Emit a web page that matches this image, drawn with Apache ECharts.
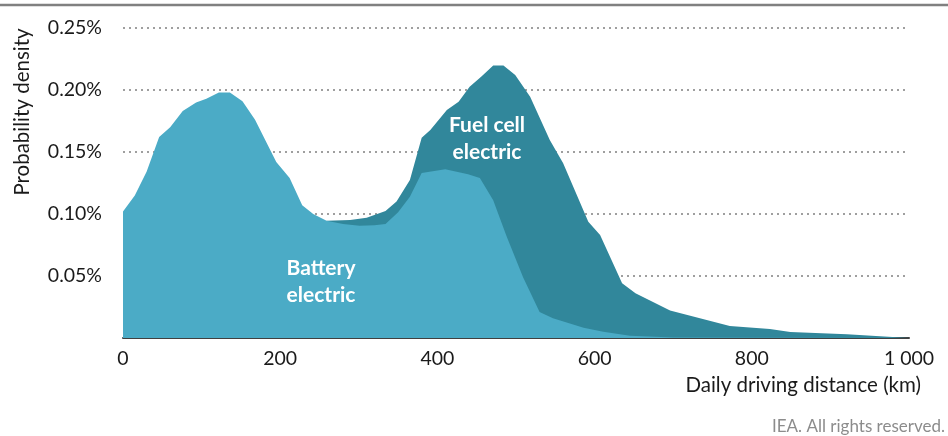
<!DOCTYPE html>
<html><head><meta charset="utf-8">
<script src="https://cdn.jsdelivr.net/npm/echarts@6/dist/echarts.min.js"></script>
<style>html,body{margin:0;padding:0;background:#fff}#c{width:948px;height:436px}</style>
</head><body><div id="c"></div>
<script>
const xTicks = [0, 200, 400, 600, 800, 1000];
const yTicks = [0.05, 0.10, 0.15, 0.20, 0.25];
const batteryKm =  [0, 15, 30, 46, 60, 76, 93, 106, 122, 136, 152, 168, 195, 212, 228, 242, 259, 280, 301, 320, 334, 350, 365, 380, 410, 439, 454, 471, 488, 509, 530, 547, 586, 611, 645, 700, 800, 1000];
const batteryVal = [0.102, 0.115, 0.134, 0.162, 0.170, 0.183, 0.190, 0.193, 0.198, 0.198, 0.191, 0.176, 0.142, 0.129, 0.107, 0.100, 0.0946, 0.092, 0.0906, 0.091, 0.092, 0.1014, 0.114, 0.133, 0.136, 0.132, 0.129, 0.111, 0.082, 0.049, 0.021, 0.016, 0.0083, 0.0051, 0.0019, 0.0005, 0.0002, 0];
const fuelKm =  [259, 289, 310, 334, 348, 365, 380, 391, 412, 427, 441, 456, 471, 484, 499, 518, 543, 560, 592, 607, 635, 652, 696, 772, 823, 849, 921, 1000];
const fuelVal = [0.0946, 0.0952, 0.097, 0.1024, 0.110, 0.1274, 0.1615, 0.1677, 0.1839, 0.1906, 0.2027, 0.2108, 0.2197, 0.2197, 0.2121, 0.1946, 0.1597, 0.1409, 0.0938, 0.0831, 0.0441, 0.036, 0.0222, 0.0097, 0.0073, 0.0048, 0.003, 0];

const battery = batteryKm.map((k, i) => [k, batteryVal[i]]);
const fuel = fuelKm.map((k, i) => [k, fuelVal[i]]);

const chart = echarts.init(document.getElementById('c'), null, {renderer: 'canvas'});
const FONT = 'Lato, "Open Sans", sans-serif';
chart.setOption({
  animation: false,
  grid: {left: 123, right: 39, top: 28, bottom: 98, containLabel: false},
  xAxis: {
    type: 'value', min: 0, max: 1000, interval: 200,
    axisLine: {show: true, lineStyle: {color: '#404040', width: 2}},
    axisTick: {show: false},
    splitLine: {show: false},
    axisLabel: {color: '#1a1a1a', fontSize: 19.5, fontFamily: FONT, margin: 11,
      formatter: v => v >= 1000 ? '1 000' : String(v)}
  },
  yAxis: {
    type: 'value', min: 0, max: 0.25, interval: 0.05,
    axisLine: {show: false}, axisTick: {show: false},
    splitLine: {show: true, lineStyle: {color: '#808080', type: [2, 4], width: 1.5}},
    axisLabel: {color: '#1a1a1a', fontSize: 19.5, fontFamily: FONT, margin: 21,
      formatter: v => v === 0 ? '' : v.toFixed(2) + '%'}
  },
  series: [
    {name: 'Fuel cell electric', type: 'line', data: fuel, symbol: 'none', smooth: false,
     lineStyle: {width: 0}, areaStyle: {color: '#31879b', opacity: 1}, z: 2},
    {name: 'Battery electric', type: 'line', data: battery, symbol: 'none', smooth: false,
     lineStyle: {width: 0}, areaStyle: {color: '#4babc6', opacity: 1}, z: 3}
  ],
  graphic: [
    {type: 'line', shape: {x1: 0, y1: 5, x2: 948, y2: 5}, style: {stroke: '#808080', lineWidth: 2.5}, z: 10},
    {type: 'text', x: 22, y: 112, rotation: Math.PI / 2,
     style: {text: 'Probability density', font: '20.5px ' + FONT, fill: '#1a1a1a', align: 'center', verticalAlign: 'middle'}},
    {type: 'text', x: 921, y: 385,
     style: {text: 'Daily driving distance (km)', font: '20.5px ' + FONT, fill: '#1a1a1a', align: 'right', verticalAlign: 'middle'}},
    {type: 'text', x: 945, y: 427,
     style: {text: 'IEA. All rights reserved.', font: '17px ' + FONT, fill: '#8c8c8c', align: 'right', verticalAlign: 'middle'}},
    {type: 'text', x: 321, y: 282, z: 20,
     style: {text: 'Battery\nelectric', font: 'bold 21px ' + FONT, fill: '#ffffff', align: 'center', verticalAlign: 'middle', lineHeight: 27}},
    {type: 'text', x: 487, y: 139, z: 20,
     style: {text: 'Fuel cell\nelectric', font: 'bold 21px ' + FONT, fill: '#ffffff', align: 'center', verticalAlign: 'middle', lineHeight: 27}}
  ]
});
</script></body></html>
